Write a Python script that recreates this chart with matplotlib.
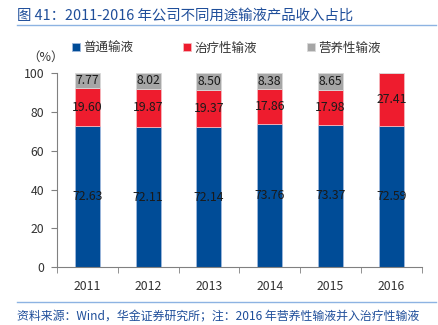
import numpy as np
import matplotlib.pyplot as plt
from matplotlib.lines import Line2D

plt.rcParams['font.family'] = ['Noto Sans CJK SC', 'DejaVu Sans']

years = ['2011', '2012', '2013', '2014', '2015', '2016']
general = [72.63, 72.11, 72.14, 73.76, 73.37, 72.59]
therapy = [19.60, 19.87, 19.37, 17.86, 17.98, 27.41]
nutrition = [7.77, 8.02, 8.50, 8.38, 8.65, 0.0]
series_names = ['普通输液', '治疗性输液', '营养性输液']

c_blue = '#004C97'
c_red = '#EE1C2E'
c_gray = '#A6A6A6'
title_color = '#1F4E9A'

fig = plt.figure(figsize=(4.38, 3.25), dpi=100)
ax = fig.add_axes([0.130, 0.178, 0.833, 0.597])

x = np.arange(len(years))
w = 0.41
g = np.array(general)
t = np.array(therapy)
n = np.array(nutrition)
ax.bar(x, g, w, color=c_blue, edgecolor='#9DB8DC', linewidth=0.6, label=series_names[0])
ax.bar(x, t, w, bottom=g, color=c_red, edgecolor='#F5B7BD', linewidth=0.6, label=series_names[1])
ax.bar(x, n, w, bottom=g + t, color=c_gray, edgecolor='#D9D9D9', linewidth=0.6, label=series_names[2])

for i in range(len(years)):
    ax.text(x[i], g[i] / 2, '%.2f' % g[i], ha='center', va='center', fontsize=8.8, color='#1a1a1a')
    ax.text(x[i], g[i] + t[i] / 2, '%.2f' % t[i], ha='center', va='center', fontsize=8.8, color='#1a1a1a')
    if n[i] > 0:
        ax.text(x[i], g[i] + t[i] + n[i] / 2, '%.2f' % n[i], ha='center', va='center', fontsize=8.8, color='#1a1a1a')

ax.set_xlim(-0.5, len(years) - 0.5)
ax.set_ylim(0, 100)
ax.set_yticks([0, 20, 40, 60, 80, 100])
ax.set_xticks(x)
ax.set_xticklabels(years)
ax.set_xticks(np.arange(-0.5, len(years), 1.0), minor=True)
ax.tick_params(axis='x', which='major', length=0, labelsize=8.8, colors='#333333', pad=9)
ax.tick_params(axis='x', which='minor', length=4, direction='out', color='#808080')
ax.tick_params(axis='y', length=4, direction='out', labelsize=8.8, colors='#333333', color='#808080', pad=5)
for s in ['top', 'right']:
    ax.spines[s].set_visible(False)
ax.spines['left'].set_color('#808080')
ax.spines['bottom'].set_color('#808080')

ax.text(0.02, 1.08, '（%）', transform=ax.transAxes, ha='right', va='center', fontsize=9, color='#333333')

leg = ax.legend(loc='lower center', bbox_to_anchor=(0.465, 1.07), ncol=3, frameon=False,
                fontsize=9, handlelength=0.6, handleheight=0.6, handletextpad=0.3,
                columnspacing=4.0, borderaxespad=0)
for txt in leg.get_texts():
    txt.set_color('#333333')

fig.text(0.039, 0.953, '图 41：2011-2016 年公司不同用途输液产品收入占比', fontsize=10.4,
         color=title_color, ha='left', va='center')
fig.add_artist(Line2D([0.039, 0.995], [0.922, 0.922], color='#8DB3E2', linewidth=1.0))
fig.add_artist(Line2D([0.039, 0.995], [0.072, 0.072], color='#8DB3E2', linewidth=1.0))
fig.text(0.039, 0.026, '资料来源：Wind，华金证券研究所；注：2016 年营养性输液并入治疗性输液', fontsize=8.6,
         color=title_color, ha='left', va='center', style='italic')

fig.savefig('out.png', dpi=100)
